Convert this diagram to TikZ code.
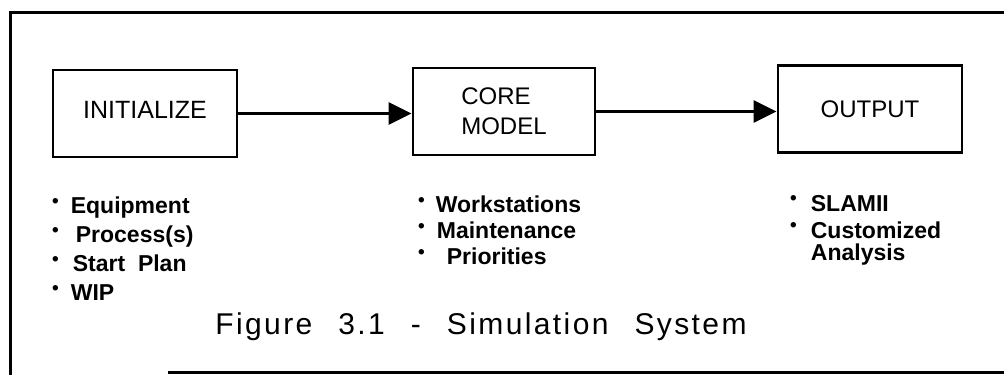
\documentclass[tikz,border=0pt]{standalone}
\usepackage{fontspec}
\setmainfont{Liberation Sans}
\usetikzlibrary{arrows.meta}
% raised dot used in front of each list entry
\newcommand\itemdot{\raisebox{6.5pt}{\fontsize{19}{19}\selectfont\textbullet}}
\newcommand\capgap{\hspace{26pt}}
\begin{document}
\begin{tikzpicture}[x=1pt,y=-1pt,
  frame/.style={line width=3pt},
  stage/.style={draw, line width=2.8pt, minimum width=184pt, minimum height=87pt, inner sep=0pt},
  flow/.style={line width=3pt, -{Triangle[length=23pt,width=22pt]}},
  items/.style={anchor=north west, inner sep=0pt, align=left,
                font=\fontsize{23}{29}\selectfont\bfseries},
  caption/.style={inner sep=0pt, font=\fontsize{30}{30}\selectfont\addfontfeature{LetterSpace=8}}
]
\useasboundingbox (0,0) rectangle (1004,375);

% outer frame
\draw[frame] (1004,12) -- (10,12) -- (10,375);
\draw[frame] (168,372) -- (1004,372);

% the three stages
\node[stage, text depth=8pt, font=\fontsize{25}{25}\selectfont] (init) at (145,113.5) {INITIALIZE};
\node[stage, minimum width=182pt, align=left, font=\fontsize{24}{30}\selectfont] (core) at (504,111.5) {CORE\\MODEL};
\node[stage, font=\fontsize{24}{24}\selectfont] (out) at (870,109) {OUTPUT};

% flow between stages
\draw[flow] (init.east) -- (init.east -| core.west);
\draw[flow] (core.east) -- (core.east -| out.west);

% contents of each stage
\node[items] (initlist) at (52,197) {%
  \itemdot\hspace{12pt}Equipment\\
  \itemdot\hspace{17pt}Process(s)\\
  \itemdot\hspace{14pt}Start\ \ Plan\\
  \itemdot\hspace{12pt}WIP};
\node[items, font=\fontsize{23}{26}\selectfont\bfseries] (corelist) at (418,196) {%
  \itemdot\hspace{11pt}Workstations\\
  \itemdot\hspace{12pt}Maintenance\\
  \itemdot\hspace{22pt}Priorities};
\node[items] (outlist) at (790,195) {%
  \itemdot\hspace{14pt}SLAMII\\[-2pt]
  \itemdot\hspace{14pt}Customized\\[-7pt]
  \hspace{20.7pt}Analysis};

% caption
\node[caption] (cap) at (481,327) {Figure\capgap 3.1\capgap -\capgap Simulation\capgap System};
\end{tikzpicture}
\end{document}
